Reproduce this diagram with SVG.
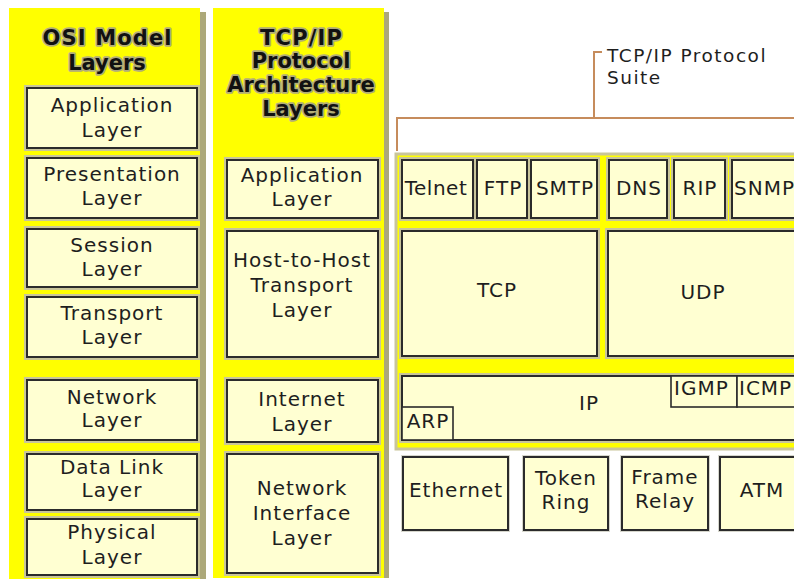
<svg xmlns="http://www.w3.org/2000/svg" width="794" height="579" viewBox="0 0 794 579">
<style>
.bg{fill:#ffffff}
.panel{fill:#ffff00}
.shadow{fill:#aca87a}
.suite{fill:#ffff00;stroke:#c9c59a;stroke-width:3}
.halo{fill:none;stroke:#c9c59a;stroke-width:6}
.lhalo{fill:none;stroke:#d6d6cc;stroke-width:4}
.box{fill:#ffffd2;stroke:#2b2b2b;stroke-width:2}
.sub{fill:#ffffd2;stroke:#2b2b2b;stroke-width:1.6}
.t{font-family:"DejaVu Sans",Verdana,sans-serif;font-size:20px;fill:#1e1e1e;letter-spacing:1px;text-anchor:middle}
.s{text-anchor:start}
.lbl{font-size:18.5px;letter-spacing:1.5px}
.h{font-family:"DejaVu Sans",Verdana,sans-serif;font-weight:bold;font-size:21px;fill:#111;stroke:#b3ae78;stroke-width:3.5;stroke-linejoin:round;paint-order:stroke;text-anchor:middle}
.br{fill:none;stroke:#c68c5c;stroke-width:2}
</style>
<rect class="bg" x="0" y="0" width="794" height="579"/>

<g id="osi-panel">
  <rect class="shadow" x="199" y="12" width="7" height="567"/>
  <rect class="panel" x="9" y="8" width="191" height="571"/>
  <text class="h" x="107" y="45" textLength="129" lengthAdjust="spacing">OSI Model</text>
  <text class="h" x="107" y="70">Layers</text>
</g>
<g id="tcpip-panel">
  <rect class="shadow" x="383" y="12" width="6" height="566"/>
  <rect class="panel" x="213" y="8" width="171" height="570"/>
  <text class="h" x="301" y="45" textLength="82" lengthAdjust="spacing">TCP/IP</text>
  <text class="h" x="301" y="68">Protocol</text>
  <text class="h" x="301" y="92">Architecture</text>
  <text class="h" x="301" y="116">Layers</text>
</g>

<g id="osi-application">
  <rect class="halo" x="27" y="88" width="170" height="60"/><rect class="box" x="27" y="88" width="170" height="60"/>
  <text class="t" x="112" y="112">Application</text><text class="t" x="112" y="137">Layer</text>
</g>
<g id="osi-presentation">
  <rect class="halo" x="27" y="158" width="170" height="60"/><rect class="box" x="27" y="158" width="170" height="60"/>
  <text class="t" x="112" y="181">Presentation</text><text class="t" x="112" y="205">Layer</text>
</g>
<g id="osi-session">
  <rect class="halo" x="27" y="229" width="170" height="58"/><rect class="box" x="27" y="229" width="170" height="58"/>
  <text class="t" x="112" y="252">Session</text><text class="t" x="112" y="276">Layer</text>
</g>
<g id="osi-transport">
  <rect class="halo" x="27" y="297" width="170" height="60"/><rect class="box" x="27" y="297" width="170" height="60"/>
  <text class="t" x="112" y="320">Transport</text><text class="t" x="112" y="344">Layer</text>
</g>
<g id="osi-network">
  <rect class="halo" x="27" y="380" width="170" height="60"/><rect class="box" x="27" y="380" width="170" height="60"/>
  <text class="t" x="112" y="404">Network</text><text class="t" x="112" y="427">Layer</text>
</g>
<g id="osi-datalink">
  <rect class="halo" x="27" y="454" width="170" height="56"/><rect class="box" x="27" y="454" width="170" height="56"/>
  <text class="t" x="112" y="474">Data Link</text><text class="t" x="112" y="497">Layer</text>
</g>
<g id="osi-physical">
  <rect class="halo" x="27" y="519" width="170" height="56"/><rect class="box" x="27" y="519" width="170" height="56"/>
  <text class="t" x="112" y="539">Physical</text><text class="t" x="112" y="564">Layer</text>
</g>

<g id="tcp-application">
  <rect class="halo" x="227" y="160" width="151" height="58"/><rect class="box" x="227" y="160" width="151" height="58"/>
  <text class="t" x="302" y="182">Application</text><text class="t" x="302" y="206">Layer</text>
</g>
<g id="tcp-transport">
  <rect class="halo" x="227" y="231" width="151" height="126"/><rect class="box" x="227" y="231" width="151" height="126"/>
  <text class="t" x="302" y="267">Host-to-Host</text><text class="t" x="302" y="292">Transport</text><text class="t" x="302" y="317">Layer</text>
</g>
<g id="tcp-internet">
  <rect class="halo" x="227" y="380" width="151" height="62"/><rect class="box" x="227" y="380" width="151" height="62"/>
  <text class="t" x="302" y="406">Internet</text><text class="t" x="302" y="431">Layer</text>
</g>
<g id="tcp-netif">
  <rect class="halo" x="227" y="454" width="151" height="119"/><rect class="box" x="227" y="454" width="151" height="119"/>
  <text class="t" x="302" y="495">Network</text><text class="t" x="302" y="520">Interface</text><text class="t" x="302" y="545">Layer</text>
</g>

<g id="suite-panel">
  <rect class="suite" x="396" y="154" width="410" height="295"/>
  <text class="t s lbl" x="607" y="62">TCP/IP Protocol</text>
  <text class="t s lbl" x="607" y="84">Suite</text>
</g>

<g id="connectors">
  <path class="br" d="M397,151 V118 H794"/>
  <path class="br" d="M594,118 V52 H602"/>
</g>

<g id="telnet"><rect class="halo" x="402" y="160" width="71" height="58"/><rect class="box" x="402" y="160" width="71" height="58"/><text class="t" x="436" y="195" style="letter-spacing:0.5px">Telnet</text></g>
<g id="ftp"><rect class="halo" x="477" y="160" width="50" height="58"/><rect class="box" x="477" y="160" width="50" height="58"/><text class="t" x="503" y="195">FTP</text></g>
<g id="smtp"><rect class="halo" x="531" y="160" width="66" height="58"/><rect class="box" x="531" y="160" width="66" height="58"/><text class="t" x="565" y="195">SMTP</text></g>
<g id="dns"><rect class="halo" x="609" y="160" width="58" height="58"/><rect class="box" x="609" y="160" width="58" height="58"/><text class="t" x="639" y="195">DNS</text></g>
<g id="rip"><rect class="halo" x="674" y="160" width="51" height="58"/><rect class="box" x="674" y="160" width="51" height="58"/><text class="t" x="700" y="195">RIP</text></g>
<g id="snmp"><rect class="halo" x="732" y="160" width="80" height="58"/><rect class="box" x="732" y="160" width="80" height="58"/><text class="t s" x="734" y="195">SNMP</text></g>

<g id="tcp"><rect class="halo" x="402" y="231" width="195" height="125"/><rect class="box" x="402" y="231" width="195" height="125"/><text class="t" x="497" y="297">TCP</text></g>
<g id="udp"><rect class="halo" x="608" y="231" width="200" height="125"/><rect class="box" x="608" y="231" width="200" height="125"/><text class="t" x="703" y="299">UDP</text></g>

<g id="ip"><rect class="halo" x="402" y="376" width="410" height="64"/><rect class="box" x="402" y="376" width="410" height="64"/><text class="t" x="589" y="410">IP</text></g>
<g id="igmp"><rect class="sub" x="671" y="376" width="66" height="31"/><text class="t s" x="674" y="395">IGMP</text></g>
<g id="icmp"><rect class="sub" x="737" y="376" width="70" height="31"/><text class="t s" x="739" y="395">ICMP</text></g>
<g id="arp"><rect class="sub" x="402" y="407" width="51" height="33"/><text class="t" x="428" y="428">ARP</text></g>

<g id="ethernet"><rect class="lhalo" x="403" y="457" width="105" height="73"/><rect class="box" x="403" y="457" width="105" height="73"/><text class="t" x="456" y="497">Ethernet</text></g>
<g id="tokenring"><rect class="lhalo" x="524" y="457" width="84" height="73"/><rect class="box" x="524" y="457" width="84" height="73"/><text class="t" x="566" y="485">Token</text><text class="t" x="566" y="509">Ring</text></g>
<g id="framerelay"><rect class="lhalo" x="622" y="457" width="86" height="73"/><rect class="box" x="622" y="457" width="86" height="73"/><text class="t" x="665" y="484">Frame</text><text class="t" x="665" y="508">Relay</text></g>
<g id="atm"><rect class="lhalo" x="720" y="457" width="90" height="73"/><rect class="box" x="720" y="457" width="90" height="73"/><text class="t" x="762" y="497">ATM</text></g>
</svg>
